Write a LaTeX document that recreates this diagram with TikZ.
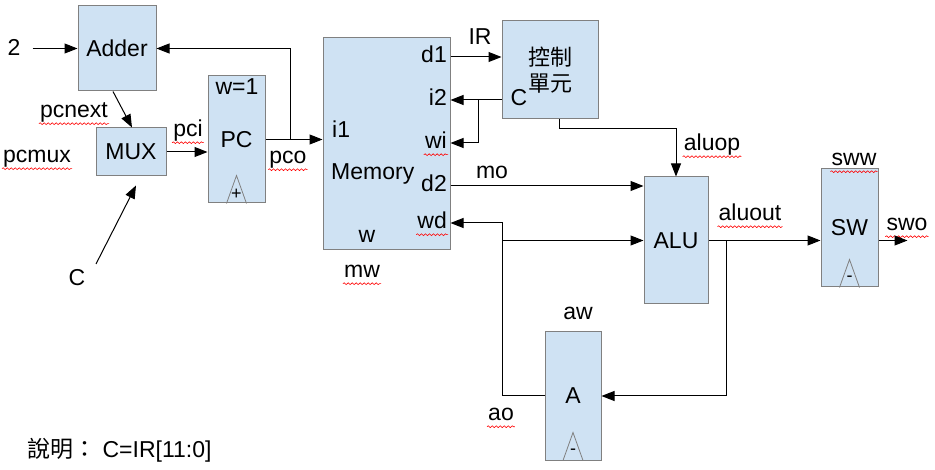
\documentclass[tikz,border=0pt]{standalone}
\usepackage{fontspec}
\setmainfont{Liberation Sans}
\newfontfamily\cjk{Noto Sans CJK TC}
\usetikzlibrary{arrows.meta, calc, decorations.pathmorphing}
\definecolor{boxblue}{RGB}{207,226,243}
\definecolor{boxline}{RGB}{128,128,128}
\tikzstyle{block} = [rectangle, draw=boxline, fill=boxblue, line width=1pt,
                 inner sep=0pt]
\tikzstyle{lbl} = [inner sep=1pt, text height=16pt, text depth=5pt]
\tikzstyle{wire} = [draw, line width=1pt, -{Triangle[length=13pt,width=10pt]}]
\tikzstyle{clk} = [draw=boxline, line width=0.8pt]
\tikzstyle{spell} = [draw=red, line width=0.6pt, decorate,
                 decoration={snake, amplitude=0.9pt, segment length=4pt}]

\begin{document}
\begin{tikzpicture}[x=1pt, y=-1pt, font=\fontsize{23}{27}\selectfont]
\useasboundingbox (0,0) rectangle (935,470);

% blocks
\node [block, minimum width=78pt, minimum height=85pt] at (117,48.5) (adder) {Adder};
\node [block, minimum width=70pt, minimum height=48pt] at (131,152) (mux) {MUX};
\node [block, minimum width=57pt, minimum height=127pt] at (236.5,139.5) (pc) {PC};
\node [block, minimum width=127pt, minimum height=212pt] at (386.5,144) (mem) {};
\node [block, minimum width=96pt, minimum height=98pt, align=center,
       font=\fontsize{22}{26}\selectfont\cjk] at (550,70) (ctrl) {控制\\單元};
\node [block, minimum width=64pt, minimum height=127pt] at (676,240.5) (alu) {ALU};
\node [block, minimum width=57pt, minimum height=118pt] at (849.5,228) (sw) {SW};
\node [block, minimum width=56pt, minimum height=128pt] at (573,396) (areg) {A};

% clock marks
\foreach \reg/\sgn in {pc/+, sw/-, areg/-} {
	\draw [clk] ($(\reg.south)+(-10,0)$) -- ++(10,-28) -- ++(10,28);
	\node [font=\fontsize{18}{18}\selectfont] at ($(\reg.south)+(0,-9)$) {\sgn};
}

% labels
\foreach \x/\y/\name/\txt in {14/50/two/2, 74/112/pcnext/pcnext, 37/157/pcmux/pcmux,
		77/280/cin/C, 188/131/pci/pci, 237/89/wone/w=1, 288/158/pco/pco,
		367/237/wlbl/w, 362/272/mw/mw, 480/39/ir/IR, 519/100/cc/C,
		492/173/mo/mo, 712/145/aluop/aluop, 750/215/aluout/aluout,
		854/160/sww/sww, 907/225/swo/swo, 578/314/aw/aw, 501/415/ao/ao}
	\node [lbl] at (\x,\y) (\name) {\txt};

\node [lbl, anchor=west] at (331,132) (i1) {i1};
\node [lbl, anchor=west] at (330,174) (memtxt) {Memory};
\foreach \name/\y in {d1/57, i2/100, wi/143, d2/186, wd/223}
	\node [lbl, anchor=east] at (448,\y) (\name) {\name};

\node [lbl, anchor=west] at (26,452) (note) {{\cjk 說明：}\ C=IR[11:0]};

% spelling marks
\foreach \name in {pcnext, pcmux, pci, pco, wi, wd, mw, aluop, aluout, sww, swo, ao}
	\path [spell] (\name.south west) -- (\name.south east);

% connectors
\draw [wire, shorten <=11pt] (two.east |- adder.west) -- (adder.west);
\draw [wire] ($(adder.south)+(-4,0)$) -- ($(mux.north)+(1,0)$);
\draw [wire] ($(cin)+(19,-16)$) -- ($(mux.south)+(5,9)$);
\draw [wire] (mux.east) -- (mux.east -| pc.west);
\draw [wire] (pc.east) -- (pc.east -| mem.west);
\coordinate (pctap) at ($(pc.east)+(25,0)$);
\draw [wire] (pctap) |- (adder.east);

\draw [wire] (d1 -| mem.east) -- (d1 -| ctrl.west);
\draw [wire] (i2 -| ctrl.west) -- (i2 -| mem.east);
\coordinate (ctap) at ($(i2 -| mem.east)+(28,0)$);
\draw [wire] (ctap) |- (wi -| mem.east);
\draw [wire] ($(ctrl.south)+(9,0)$) -- ++(0,9) -| (alu.north);

\draw [wire] (d2 -| mem.east) -- (d2 -| alu.west);
\coordinate (aotap) at ($(wd -| mem.east)+(52,0)$);
\draw [wire] (areg.west) -| (aotap) -- (wd -| mem.east);
\draw [wire] (aotap |- alu.west) -- (alu.west);

\draw [wire] (alu.east) -- (alu.east -| sw.west);
\coordinate (alutap) at ($(alu.east)+(18,0)$);
\draw [wire] (alutap) |- (areg.east);
\coordinate (swend) at ($(sw.east |- alu.east)+(29,0)$);
\draw [wire] (sw.east |- alu.east) -- (swend);

\end{tikzpicture}
\end{document}
